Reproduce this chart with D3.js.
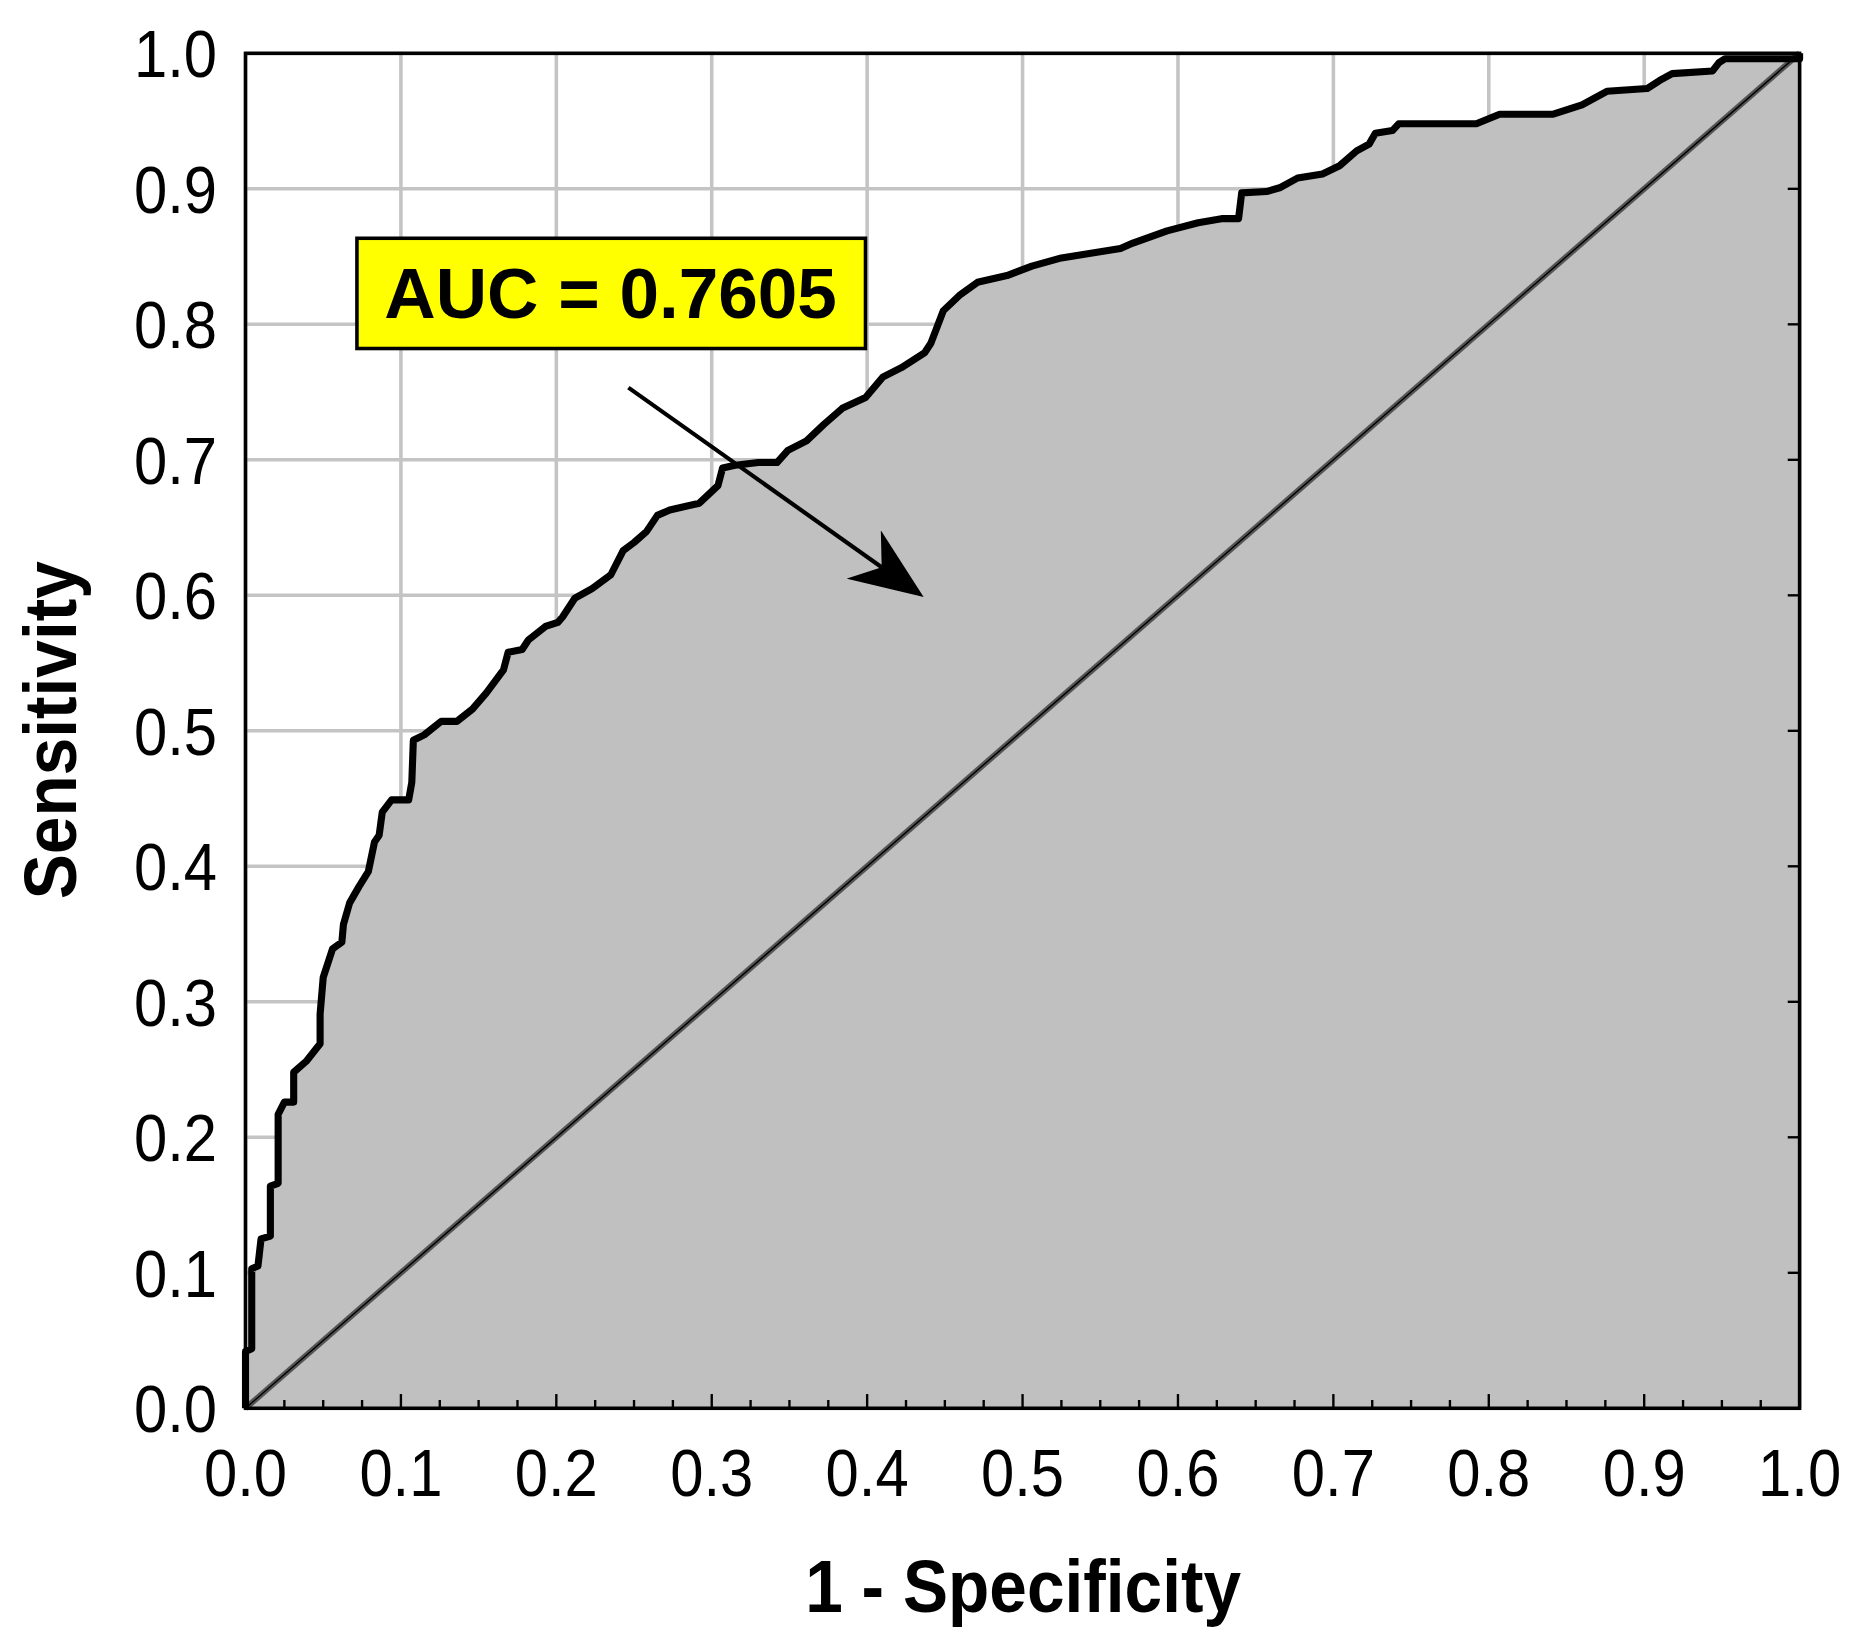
<!DOCTYPE html>
<html>
<head>
<meta charset="utf-8">
<script src="https://cdn.jsdelivr.net/npm/d3@7"></script>
<style>
  body { margin: 0; background: #fff; }
  text { font-family: "Liberation Sans", Arial, sans-serif; }
</style>
</head>
<body>
<div id="chart"></div>
<script>
// ROC curve points
var fpr = [0, 0, 0.004, 0.004, 0.008, 0.010, 0.016, 0.016, 0.021, 0.021, 0.025, 0.031, 0.031, 0.039,
  0.048, 0.048, 0.050, 0.054, 0.056, 0.062, 0.063, 0.067, 0.073, 0.079, 0.083, 0.086, 0.088, 0.094,
  0.105, 0.107, 0.108, 0.115, 0.126, 0.136, 0.146, 0.155, 0.166, 0.169, 0.178, 0.182, 0.193, 0.201,
  0.204, 0.212, 0.223, 0.235, 0.243, 0.250, 0.258, 0.265, 0.273, 0.292, 0.304, 0.307, 0.315, 0.330,
  0.342, 0.349, 0.361, 0.372, 0.384, 0.399, 0.410, 0.422, 0.437, 0.441, 0.449, 0.460, 0.471, 0.490,
  0.506, 0.525, 0.563, 0.571, 0.593, 0.613, 0.628, 0.639, 0.641, 0.657, 0.666, 0.677, 0.693, 0.704,
  0.715, 0.723, 0.727, 0.738, 0.742, 0.792, 0.807, 0.841, 0.860, 0.876, 0.902, 0.910, 0.918, 0.944,
  0.948, 0.952, 1, 1];
var tpr = [0, 0.042, 0.044, 0.103, 0.105, 0.125, 0.127, 0.164, 0.166, 0.217, 0.226, 0.226, 0.248, 0.256,
  0.269, 0.291, 0.318, 0.332, 0.339, 0.344, 0.357, 0.373, 0.385, 0.396, 0.418, 0.423, 0.440, 0.449,
  0.449, 0.462, 0.493, 0.497, 0.507, 0.507, 0.516, 0.528, 0.545, 0.558, 0.560, 0.567, 0.577, 0.580,
  0.584, 0.598, 0.605, 0.615, 0.633, 0.639, 0.647, 0.659, 0.663, 0.668, 0.681, 0.694, 0.696, 0.698,
  0.698, 0.707, 0.714, 0.726, 0.738, 0.746, 0.761, 0.768, 0.779, 0.786, 0.810, 0.822, 0.831, 0.836,
  0.843, 0.849, 0.856, 0.860, 0.869, 0.875, 0.878, 0.878, 0.897, 0.898, 0.901, 0.908, 0.911, 0.917,
  0.928, 0.933, 0.941, 0.943, 0.948, 0.948, 0.955, 0.955, 0.962, 0.972, 0.974, 0.980, 0.985, 0.987,
  0.993, 0.996, 0.996, 1];
var tickValues = [0, 0.1, 0.2, 0.3, 0.4, 0.5, 0.6, 0.7, 0.8, 0.9, 1.0];
var aucLabel = "AUC = 0.7605";

var data = fpr.map(function(f, i) { return { x: f, y: tpr[i] }; });

// drawn in a 1568x1386 space and scaled to the window
var svg = d3.select("#chart").append("svg")
  .attr("width", 1859).attr("height", 1643)
  .attr("viewBox", "0 0 1568 1386");

var plotLeft = 207, plotRight = 1518, plotTop = 45, plotBottom = 1188;
var x = d3.scaleLinear().domain([0, 1]).range([plotLeft, plotRight]);
var y = d3.scaleLinear().domain([0, 1]).range([plotBottom, plotTop]);

// grid
svg.selectAll("line.gx").data(tickValues).enter().append("line")
  .attr("x1", function(d) { return x(d); }).attr("x2", function(d) { return x(d); })
  .attr("y1", plotTop).attr("y2", plotBottom)
  .attr("stroke", "#c4c4c4").attr("stroke-width", 3);
svg.selectAll("line.gy").data(tickValues).enter().append("line")
  .attr("y1", function(d) { return y(d); }).attr("y2", function(d) { return y(d); })
  .attr("x1", plotLeft).attr("x2", plotRight)
  .attr("stroke", "#c4c4c4").attr("stroke-width", 3);

// area under the curve
var area = d3.area().x(function(d) { return x(d.x); }).y0(y(0)).y1(function(d) { return y(d.y); });
svg.append("path").datum(data).attr("d", area).attr("fill", "#c0c0c0");

// diagonal
svg.append("line").attr("x1", x(0)).attr("y1", y(0)).attr("x2", x(1)).attr("y2", y(1))
  .attr("stroke", "#555").attr("stroke-width", 5);
svg.append("line").attr("x1", x(0)).attr("y1", y(0)).attr("x2", x(1)).attr("y2", y(1))
  .attr("stroke", "#000").attr("stroke-width", 1.2);

// curve
var line = d3.line().x(function(d) { return x(d.x); }).y(function(d) { return y(d.y); });
svg.append("path").datum(data).attr("d", line)
  .attr("fill", "none").attr("stroke", "#000").attr("stroke-width", 6)
  .attr("stroke-linejoin", "round");

// frame
svg.append("rect").attr("x", plotLeft).attr("y", plotTop)
  .attr("width", plotRight - plotLeft).attr("height", plotBottom - plotTop)
  .attr("fill", "none").attr("stroke", "#000").attr("stroke-width", 3);

// inward ticks, bottom and right
var minor = d3.range(0, 1.0001, 0.025);
svg.selectAll("line.tb").data(minor).enter().append("line")
  .attr("x1", function(d) { return x(d); }).attr("x2", function(d) { return x(d); })
  .attr("y1", plotBottom).attr("y2", function(d, i) { return plotBottom - (i % 4 === 0 ? 12 : 7); })
  .attr("stroke", "#000").attr("stroke-width", 2);
svg.selectAll("line.tr").data(tickValues).enter().append("line")
  .attr("y1", function(d) { return y(d); }).attr("y2", function(d) { return y(d); })
  .attr("x1", plotRight).attr("x2", plotRight - 10)
  .attr("stroke", "#000").attr("stroke-width", 2);

// tick labels (narrow, like the original)
svg.selectAll("text.xl").data(tickValues).enter().append("text")
  .attr("transform", function(d) { return "translate(" + x(d) + ",1262) scale(0.9,1)"; })
  .attr("text-anchor", "middle").attr("font-size", 56)
  .text(function(d) { return d.toFixed(1); });
svg.selectAll("text.yl").data(tickValues).enter().append("text")
  .attr("transform", function(d) { return "translate(183," + (y(d) + 20) + ") scale(0.9,1)"; })
  .attr("text-anchor", "end").attr("font-size", 56)
  .text(function(d) { return d.toFixed(1); });

// axis titles
svg.append("text").attr("transform", "translate(863,1360) scale(0.92,1)")
  .attr("text-anchor", "middle").attr("font-size", 62).attr("font-weight", "bold")
  .text("1 - Specificity");
svg.append("text").attr("transform", "translate(64,616) rotate(-90) scale(0.92,1)")
  .attr("text-anchor", "middle").attr("font-size", 62).attr("font-weight", "bold")
  .text("Sensitivity");

// AUC label and arrow
svg.append("rect").attr("x", 301).attr("y", 201).attr("width", 429).attr("height", 93)
  .attr("fill", "#ffff00").attr("stroke", "#000").attr("stroke-width", 3);
svg.append("text").attr("x", 515).attr("y", 268).attr("text-anchor", "middle")
  .attr("font-size", 60).attr("font-weight", "bold").text(aucLabel);

svg.append("defs").append("marker").attr("id", "head")
  .attr("viewBox", "0 0 10 10").attr("refX", 9).attr("refY", 5)
  .attr("markerWidth", 62).attr("markerHeight", 50).attr("markerUnits", "userSpaceOnUse")
  .attr("orient", "auto").attr("preserveAspectRatio", "none")
  .append("path").attr("d", "M0,0 L10,5 L0,10 L3,5 Z").attr("fill", "#000");
svg.append("line").attr("x1", 530).attr("y1", 327).attr("x2", 774).attr("y2", 500)
  .attr("stroke", "#000").attr("stroke-width", 3.5).attr("marker-end", "url(#head)");
</script>
</body>
</html>
